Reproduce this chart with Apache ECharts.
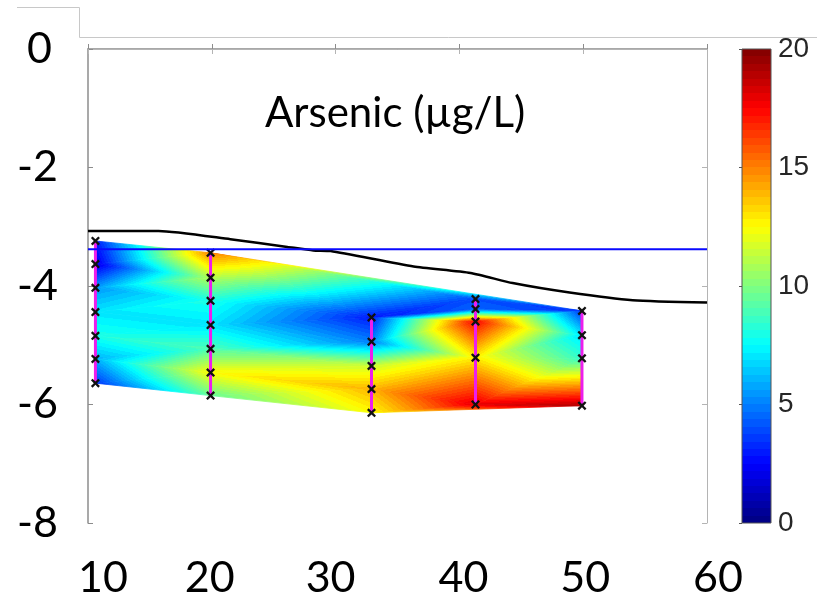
<!DOCTYPE html>
<html>
<head>
<meta charset="utf-8">
<script src="https://cdn.jsdelivr.net/npm/echarts@6/dist/echarts.min.js"></script>
<style>
  html, body { margin: 0; padding: 0; background: #fff; }
  #chart { width: 817px; height: 600px; }
</style>
</head>
<body>
<div id="chart"></div>
<script>
  // sampling wells: position along the section and sample depths
  const wellX = [10.6, 19.9, 32.9, 41.3, 49.9];
  const wellDepths = [
    [-3.24, -3.63, -4.03, -4.44, -4.84, -5.23, -5.64],
    [-3.44, -3.86, -4.25, -4.66, -5.06, -5.46, -5.85],
    [-4.53, -4.94, -5.35, -5.74, -6.14],
    [-4.22, -4.39, -4.60, -5.21, -6.00],
    [-4.42, -4.83, -5.22, -6.02]
  ];
  // arsenic (ug/L) at each sample
  const wellArsenic = [
    [3, 2, 5.5, 7, 8, 6, 3.5],
    [15, 11, 8, 7, 9, 12.5, 9.5],
    [3, 5, 11.5, 14, 12.5],
    [4, 4.5, 17.5, 12.8, 18],
    [3.5, 7, 8.5, 19]
  ];
  // ground surface (black) and water level (blue)
  const groundX = [10, 15.7, 21.5, 26.1, 28.2, 29.6, 36.3, 40.9, 44.3, 48.9, 54.0, 60];
  const groundY = [-3.07, -3.07, -3.21, -3.34, -3.40, -3.41, -3.67, -3.78, -3.95, -4.11, -4.24, -4.28];
  const waterLevel = -3.38;
  const colorMin = 0;
  const colorMax = 20;

  // jet(64) like matlab
  const NCOL = 64;
  function jet(k) {
    const t = (k + 0.5) / NCOL;
    const c = (v) => Math.round(255 * Math.max(0, Math.min(1, v)));
    return 'rgb(' + c(1.5 - Math.abs(4 * t - 3)) + ',' + c(1.5 - Math.abs(4 * t - 2)) + ',' + c(1.5 - Math.abs(4 * t - 1)) + ')';
  }
  const binW = (colorMax - colorMin) / NCOL;
  function binOf(v) {
    return Math.max(0, Math.min(NCOL - 1, Math.floor((v - colorMin) / binW)));
  }
  // hard colour stops between vmin and vmax (banded like shading interp)
  function bandStops(vmin, vmax) {
    const stops = [{ offset: 0, color: jet(binOf(vmin)) }];
    for (let k = binOf(vmin) + 1; k <= binOf(vmax); k++) {
      const off = (colorMin + k * binW - vmin) / (vmax - vmin);
      if (off <= 0 || off >= 1) continue;
      stops.push({ offset: off, color: jet(k - 1) });
      stops.push({ offset: off, color: jet(k) });
    }
    stops.push({ offset: 1, color: jet(binOf(vmax)) });
    return stops;
  }

  // flatten the samples
  const pts = [];
  const vals = [];
  wellX.forEach((x, i) => {
    wellDepths[i].forEach((d, j) => {
      pts.push([x, d]);
      vals.push(wellArsenic[i][j]);
    });
  });

  // bowyer-watson delaunay, like griddata 'linear'
  function delaunay(p) {
    const n = p.length;
    const big = 1e4;
    const all = p.concat([[-big, -big], [big, -big], [30, big]]);
    const circ = (t) => {
      const [ax, ay] = all[t[0]], [bx, by] = all[t[1]], [cx, cy] = all[t[2]];
      const d = 2 * (ax * (by - cy) + bx * (cy - ay) + cx * (ay - by));
      const a2 = ax * ax + ay * ay, b2 = bx * bx + by * by, c2 = cx * cx + cy * cy;
      const ux = (a2 * (by - cy) + b2 * (cy - ay) + c2 * (ay - by)) / d;
      const uy = (a2 * (cx - bx) + b2 * (ax - cx) + c2 * (bx - ax)) / d;
      return { x: ux, y: uy, r2: (ax - ux) * (ax - ux) + (ay - uy) * (ay - uy) };
    };
    let tris = [{ v: [n, n + 1, n + 2] }];
    tris[0].c = circ(tris[0].v);
    for (let i = 0; i < n; i++) {
      const [px, py] = all[i];
      const bad = [], keep = [];
      tris.forEach((t) => {
        const dx = px - t.c.x, dy = py - t.c.y;
        (dx * dx + dy * dy < t.c.r2 ? bad : keep).push(t);
      });
      const edges = [];
      bad.forEach((t) => {
        for (let k = 0; k < 3; k++) {
          const a = t.v[k], b = t.v[(k + 1) % 3];
          const shared = bad.some((u) => u !== t && u.v.includes(a) && u.v.includes(b));
          if (!shared) edges.push([a, b]);
        }
      });
      tris = keep;
      edges.forEach((e) => {
        const t = { v: [e[0], e[1], i] };
        t.c = circ(t.v);
        tris.push(t);
      });
    }
    return tris.filter((t) => t.v.every((k) => k < n)).map((t) => t.v);
  }
  const triangles = delaunay(pts);

  function renderTriangle(params, api) {
    const idx = [api.value(0), api.value(1), api.value(2)];
    const P = idx.map((i) => api.coord(pts[i]));
    const v = idx.map((i) => vals[i]);
    const x10 = P[1][0] - P[0][0], y10 = P[1][1] - P[0][1];
    const x20 = P[2][0] - P[0][0], y20 = P[2][1] - P[0][1];
    const det = x10 * y20 - x20 * y10;
    const vmin = Math.min(...v), vmax = Math.max(...v);
    let fill;
    if (Math.abs(det) < 1e-9 || vmax - vmin < 1e-6) {
      fill = jet(binOf((vmin + vmax) / 2));
    } else {
      const a = ((v[1] - v[0]) * y20 - (v[2] - v[0]) * y10) / det;
      const b = (x10 * (v[2] - v[0]) - x20 * (v[1] - v[0])) / det;
      const g2 = a * a + b * b;
      const s0 = (vmin - v[0]) / g2, s1 = (vmax - v[0]) / g2;
      fill = {
        type: 'linear',
        x: P[0][0] + s0 * a, y: P[0][1] + s0 * b,
        x2: P[0][0] + s1 * a, y2: P[0][1] + s1 * b,
        colorStops: bandStops(vmin, vmax),
        global: true
      };
    }
    return {
      type: 'polygon',
      shape: { points: P },
      style: { fill: fill, stroke: fill, lineWidth: 0.8 }
    };
  }

  function renderColorbar(params, api) {
    const p0 = api.coord([0, colorMin]);
    const p1 = api.coord([1, colorMax]);
    return {
      type: 'rect',
      shape: { x: p0[0], y: p1[1], width: p1[0] - p0[0], height: p0[1] - p1[1] },
      style: {
        fill: { type: 'linear', x: 0, y: p0[1], x2: 0, y2: p1[1], colorStops: bandStops(colorMin, colorMax), global: true },
        stroke: '#555',
        lineWidth: 1
      }
    };
  }

  const xShift = { 10: 15, 20: -2, 30: -5, 40: 4, 50: 2, 60: 11 };
  const labelFont = { fontFamily: 'Lato', fontSize: 43, color: '#000' };
  const xRich = {};
  Object.keys(xShift).forEach((k) => {
    const s = xShift[k];
    xRich['v' + k] = Object.assign({ padding: s > 0 ? [0, 0, 0, 2 * s] : [0, -2 * s, 0, 0] }, labelFont);
  });

  const xMark = 'path://M0,1.8L1.8,0L5,3.2L8.2,0L10,1.8L6.8,5L10,8.2L8.2,10L5,6.8L1.8,10L0,8.2L3.2,5Z';
  const axisGray = '#8c8c8c';

  const wellSeries = wellX.map((x, i) => ({
    type: 'line',
    data: wellDepths[i].map((d) => [x, d]),
    lineStyle: { color: '#ec1eec', width: 3 },
    symbol: xMark,
    symbolSize: 9,
    showSymbol: true,
    itemStyle: { color: '#111' },
    z: 4
  }));

  const option = {
    animation: false,
    backgroundColor: '#fff',
    grid: [
      { left: 88, top: 49, width: 619, height: 474, containLabel: false, outerBoundsMode: 'none' },
      { left: 742, top: 49, width: 29, height: 474, containLabel: false, outerBoundsMode: 'none' }
    ],
    xAxis: [
      {
        type: 'value', gridIndex: 0, min: 10, max: 60, interval: 10,
        axisLine: { show: true, lineStyle: { color: axisGray, width: 1.5 } },
        axisTick: { show: true, inside: true, length: 5, lineStyle: { color: axisGray } },
        splitLine: { show: false },
        axisLabel: {
          margin: 34, showMinLabel: true, showMaxLabel: true,
          formatter: (v) => '{v' + v + '|' + v + '}',
          rich: xRich
        }
      },
      {
        type: 'value', gridIndex: 0, min: 10, max: 60, interval: 10, position: 'top',
        axisLine: { show: true, lineStyle: { color: '#b4b4b4', width: 1 } },
        axisTick: { show: true, inside: true, length: 5, lineStyle: { color: '#b4b4b4' } },
        axisLabel: { show: false }, splitLine: { show: false }
      },
      { type: 'value', gridIndex: 1, min: 0, max: 1, show: false }
    ],
    yAxis: [
      {
        type: 'value', gridIndex: 0, min: -8, max: 0, interval: 2,
        axisLine: { show: true, lineStyle: { color: axisGray, width: 1.5 } },
        axisTick: { show: true, inside: true, length: 5, lineStyle: { color: axisGray } },
        splitLine: { show: false },
        axisLabel: {
          margin: 30, showMinLabel: true, showMaxLabel: true,
          formatter: (v) => (v === 0 ? '{z|0}' : '{n|' + v + '}'),
          rich: {
            z: Object.assign({ padding: [0, 6, 0, 0] }, labelFont),
            n: Object.assign({}, labelFont)
          }
        }
      },
      {
        type: 'value', gridIndex: 0, min: -8, max: 0, interval: 2, position: 'right',
        axisLine: { show: true, lineStyle: { color: '#b4b4b4', width: 1 } },
        axisTick: { show: true, inside: true, length: 5, lineStyle: { color: '#b4b4b4' } },
        axisLabel: { show: false }, splitLine: { show: false }
      },
      {
        type: 'value', gridIndex: 1, min: colorMin, max: colorMax, interval: 5, position: 'right',
        axisLine: { show: false },
        axisTick: { show: true, inside: true, length: 3, lineStyle: { color: '#555' } },
        splitLine: { show: false },
        axisLabel: {
          margin: 7, showMinLabel: true, showMaxLabel: true,
          fontFamily: 'Liberation Sans', fontSize: 28, color: '#262626',
          padding: [8, 0, 0, 0]
        }
      }
    ],
    graphic: [
      {
        type: 'polyline', silent: true,
        shape: { points: [[17, 7.5], [79.5, 7.5], [79.5, 37.5], [817, 37.5]] },
        style: { stroke: '#c8c8c8', lineWidth: 1, fill: null }
      },
      {
        type: 'text', left: 265, top: 92, z: 10,
        style: { text: 'Arsenic (\u00b5g/L)', fontFamily: 'Lato', fontSize: 42, fill: '#000' }
      }
    ],
    series: [
      {
        type: 'custom',
        xAxisIndex: 0, yAxisIndex: 0,
        renderItem: renderTriangle,
        data: triangles,
        z: 1
      },
      {
        type: 'line',
        data: groundX.map((x, i) => [x, groundY[i]]),
        lineStyle: { color: '#000', width: 2.5 },
        symbol: 'none', smooth: 0.2, z: 5
      },
      {
        type: 'line',
        data: [[10, waterLevel], [60, waterLevel]],
        lineStyle: { color: '#0a0aff', width: 2 },
        symbol: 'none', z: 5
      },
      ...wellSeries,
      {
        type: 'custom',
        xAxisIndex: 2, yAxisIndex: 2,
        renderItem: renderColorbar,
        data: [[0, colorMin]]
      }
    ]
  };

  const chart = echarts.init(document.getElementById('chart'));
  chart.setOption(option);
</script>
</body>
</html>
